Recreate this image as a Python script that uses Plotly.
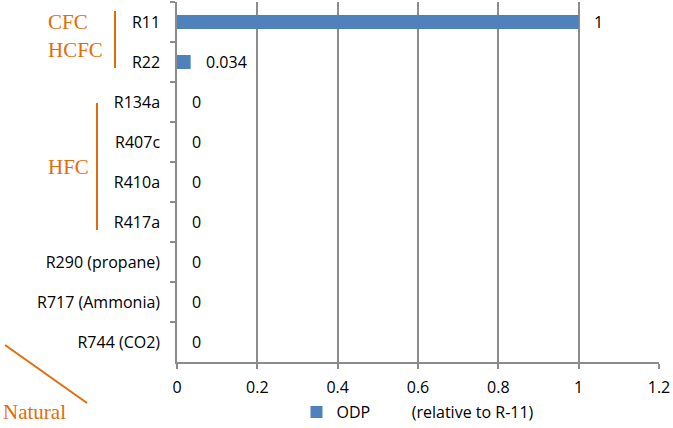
import plotly.graph_objects as go

refrigerants = ["R11", "R22", "R134a", "R407c", "R410a", "R417a",
                "R290 (propane)", "R717 (Ammonia)", "R744 (CO2)"]
odp = [1, 0.034, 0, 0, 0, 0, 0, 0, 0]
odp_labels = ["1", "0.034", "0", "0", "0", "0", "0", "0", "0"]
x_ticks = [0, 0.2, 0.4, 0.6, 0.8, 1, 1.2]
x_tick_labels = ["0", "0.2", "0.4", "0.6", "0.8", "1", "1.2"]

BLUE = "#4F81BD"
ORANGE = "#E36C09"
GRID = "#8C8C8C"
FONT = "Open Sans"
FS = 16

fig = go.Figure()
fig.add_trace(go.Bar(
    y=refrigerants, x=odp, orientation="h",
    marker=dict(color=BLUE, line=dict(width=0)),
    name="ODP" + "\u00a0" * 10 + "(relative to R-11)",
    showlegend=True,
))

# value labels to the right of each bar
for name, v, lab in zip(refrigerants, odp, odp_labels):
    fig.add_annotation(x=v, y=name, text=lab, showarrow=False,
                       xanchor="left", xshift=13,
                       font=dict(family=FONT, size=FS, color="#000"))

# group labels and brackets
for txt, xx, yy in [("CFC", 46, 22), ("HCFC", 46, 50), ("HFC", 46, 167), ("Natural", 1, 412)]:
    fig.add_annotation(x=xx, y=yy, xref="paper", yref="paper",
                       text=txt, showarrow=False, xanchor="left", yanchor="middle",
                       font=dict(family="Liberation Serif", size=21, color=ORANGE))

fig.update_layout(
    width=673, height=428,
    margin=dict(l=177, r=14, t=2, b=66, autoexpand=False),
    plot_bgcolor="white", paper_bgcolor="white",
    bargap=0.65,
    font=dict(family=FONT, size=FS, color="#000"),
    xaxis=dict(range=[0, 1.2], tickvals=x_ticks, ticktext=x_tick_labels,
               showgrid=True, gridcolor=GRID, gridwidth=1.5,
               showline=True, linecolor=GRID, linewidth=1.5,
               ticks="outside", ticklen=5, tickcolor=GRID, tickwidth=1.5,
               zeroline=False, ticklabelstandoff=5,
               tickfont=dict(family=FONT, size=FS)),
    yaxis=dict(categoryorder="array", categoryarray=refrigerants,
               autorange="reversed", tickson="boundaries",
               showline=True, linecolor=GRID, linewidth=1.5,
               ticks="outside", ticklen=5, tickcolor=GRID, tickwidth=1.5,
               showgrid=False, ticklabelstandoff=12,
               tickfont=dict(family=FONT, size=FS)),
    legend=dict(orientation="h", x=0.5, xanchor="center", y=-0.092, yanchor="top",
                font=dict(family=FONT, size=FS)),
)

# convert pixel coordinates for the orange decoration into paper space
W, H = 673, 428
L, R, T, B = 177, 14, 2, 66
pw, ph = W - L - R, H - T - B

def px(x):
    return (x - L) / pw

def py(y):
    return 1 - (y - T) / ph

for ann in fig.layout.annotations:
    if ann.xref == "paper":
        ann.x = px(ann.x)
        ann.y = py(ann.y)

for x0, y0, x1, y1 in [(115, 11, 115, 68), (97, 103, 97, 230), (5, 345, 87, 403)]:
    fig.add_shape(type="line", xref="paper", yref="paper",
                  x0=px(x0), y0=py(y0), x1=px(x1), y1=py(y1),
                  line=dict(color=ORANGE, width=2))

fig.write_html("out.html")
